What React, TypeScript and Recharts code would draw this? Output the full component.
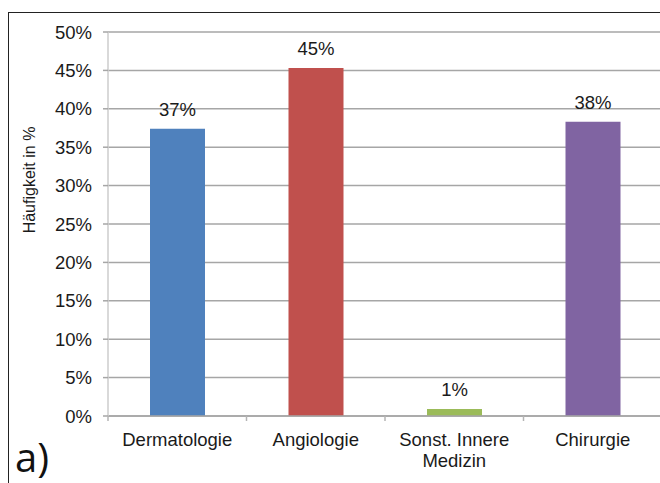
import { Bar, BarChart, CartesianGrid, Cell, Label, LabelList, Text, XAxis, YAxis } from 'recharts';

// Häufigkeit je Fachrichtung (in %)
const categories = ['Dermatologie', 'Angiologie', 'Sonst. Innere Medizin', 'Chirurgie'];
const shares = [37.4, 45.3, 0.9, 38.3];
const barColors = ['#4f81bd', '#c0504d', '#9bbb59', '#8064a2'];
const yTicks = [0, 5, 10, 15, 20, 25, 30, 35, 40, 45, 50];

const data = categories.map((name, i) => ({ name, value: shares[i] }));

const FONT = '"Liberation Sans", Arial, sans-serif';
const TEXT_SIZE = 18.5;
const CHART_W = 672;
const CHART_H = 483;
const MARGIN = { top: 32, right: 10, left: 0, bottom: 0 };
const Y_AXIS_W = 108;
const X_AXIS_H = 67;
const PLOT_LEFT = MARGIN.left + Y_AXIS_W;
const PLOT_W = CHART_W - PLOT_LEFT - MARGIN.right;
const PLOT_BOTTOM = CHART_H - MARGIN.bottom - X_AXIS_H;
const BAND = PLOT_W / categories.length;

function CategoryTick(props: any) {
  const { x, payload, index } = props;
  const left = x - BAND / 2;
  return (
    <g>
      <line x1={left} x2={left} y1={PLOT_BOTTOM} y2={PLOT_BOTTOM + 5} stroke="#b4b4b4" strokeWidth={1.5} />
      {index === categories.length - 1 && (
        <line x1={x + BAND / 2} x2={x + BAND / 2} y1={PLOT_BOTTOM} y2={PLOT_BOTTOM + 5} stroke="#b4b4b4" strokeWidth={1.5} />
      )}
      <Text
        x={x}
        y={PLOT_BOTTOM + 17}
        width={135}
        textAnchor="middle"
        verticalAnchor="start"
        lineHeight={21}
        fontSize={TEXT_SIZE}
        fontFamily={FONT}
        fill="#1a1a1a"
      >
        {payload.value}
      </Text>
    </g>
  );
}

export default function App() {
  return (
    <div
      style={{
        position: 'absolute',
        left: 0,
        top: 0,
        width: 660,
        height: 483,
        overflow: 'hidden',
        background: '#fff',
      }}
    >
      <div
        style={{
          position: 'absolute',
          left: 8,
          top: 12,
          width: 720,
          height: 520,
          border: '1px solid #222',
        }}
      />
      <div style={{ position: 'absolute', left: 0, top: 0 }}>
        <BarChart width={CHART_W} height={CHART_H} data={data} margin={MARGIN}>
          <CartesianGrid vertical={false} stroke="#a6a6a6" strokeWidth={1.5} />
          <XAxis
            dataKey="name"
            height={X_AXIS_H}
            interval={0}
            axisLine={{ stroke: '#a6a6a6', strokeWidth: 1.5 }}
            tickLine={false}
            tick={<CategoryTick />}
          />
          <YAxis
            width={Y_AXIS_W}
            domain={[0, 50]}
            ticks={yTicks}
            interval={0}
            tickFormatter={(v: number) => `${v}%`}
            axisLine={{ stroke: '#cccccc', strokeWidth: 1.5 }}
            tickLine={{ stroke: '#a6a6a6', strokeWidth: 1.5 }}
            tickSize={5}
            tickMargin={11}
            tick={{ fontSize: TEXT_SIZE, fontFamily: FONT, fill: '#1a1a1a' }}
          >
            <Label
              content={() => (
                <text
                  x={29}
                  y={180}
                  transform="rotate(-90 29 180)"
                  textAnchor="middle"
                  dominantBaseline="central"
                  fontSize={16}
                  fontFamily={FONT}
                  fill="#1a1a1a"
                >
                  Häufigkeit in %
                </text>
              )}
            />
          </YAxis>
          <Bar dataKey="value" barSize={55} isAnimationActive={false}>
            {data.map((d, i) => (
              <Cell key={d.name} fill={barColors[i]} />
            ))}
            <LabelList
              dataKey="value"
              position="top"
              offset={13}
              formatter={(v: any) => `${Math.round(Number(v))}%`}
              style={{ fontSize: TEXT_SIZE, fontFamily: FONT, fill: '#1a1a1a' }}
            />
          </Bar>
        </BarChart>
      </div>
      <svg width={80} height={483} style={{ position: 'absolute', left: 0, top: 0 }}>
        <text x={15} y={472} fontSize={40} fontFamily='"Open Sans", sans-serif' fill="#111">
          a)
        </text>
      </svg>
    </div>
  );
}
